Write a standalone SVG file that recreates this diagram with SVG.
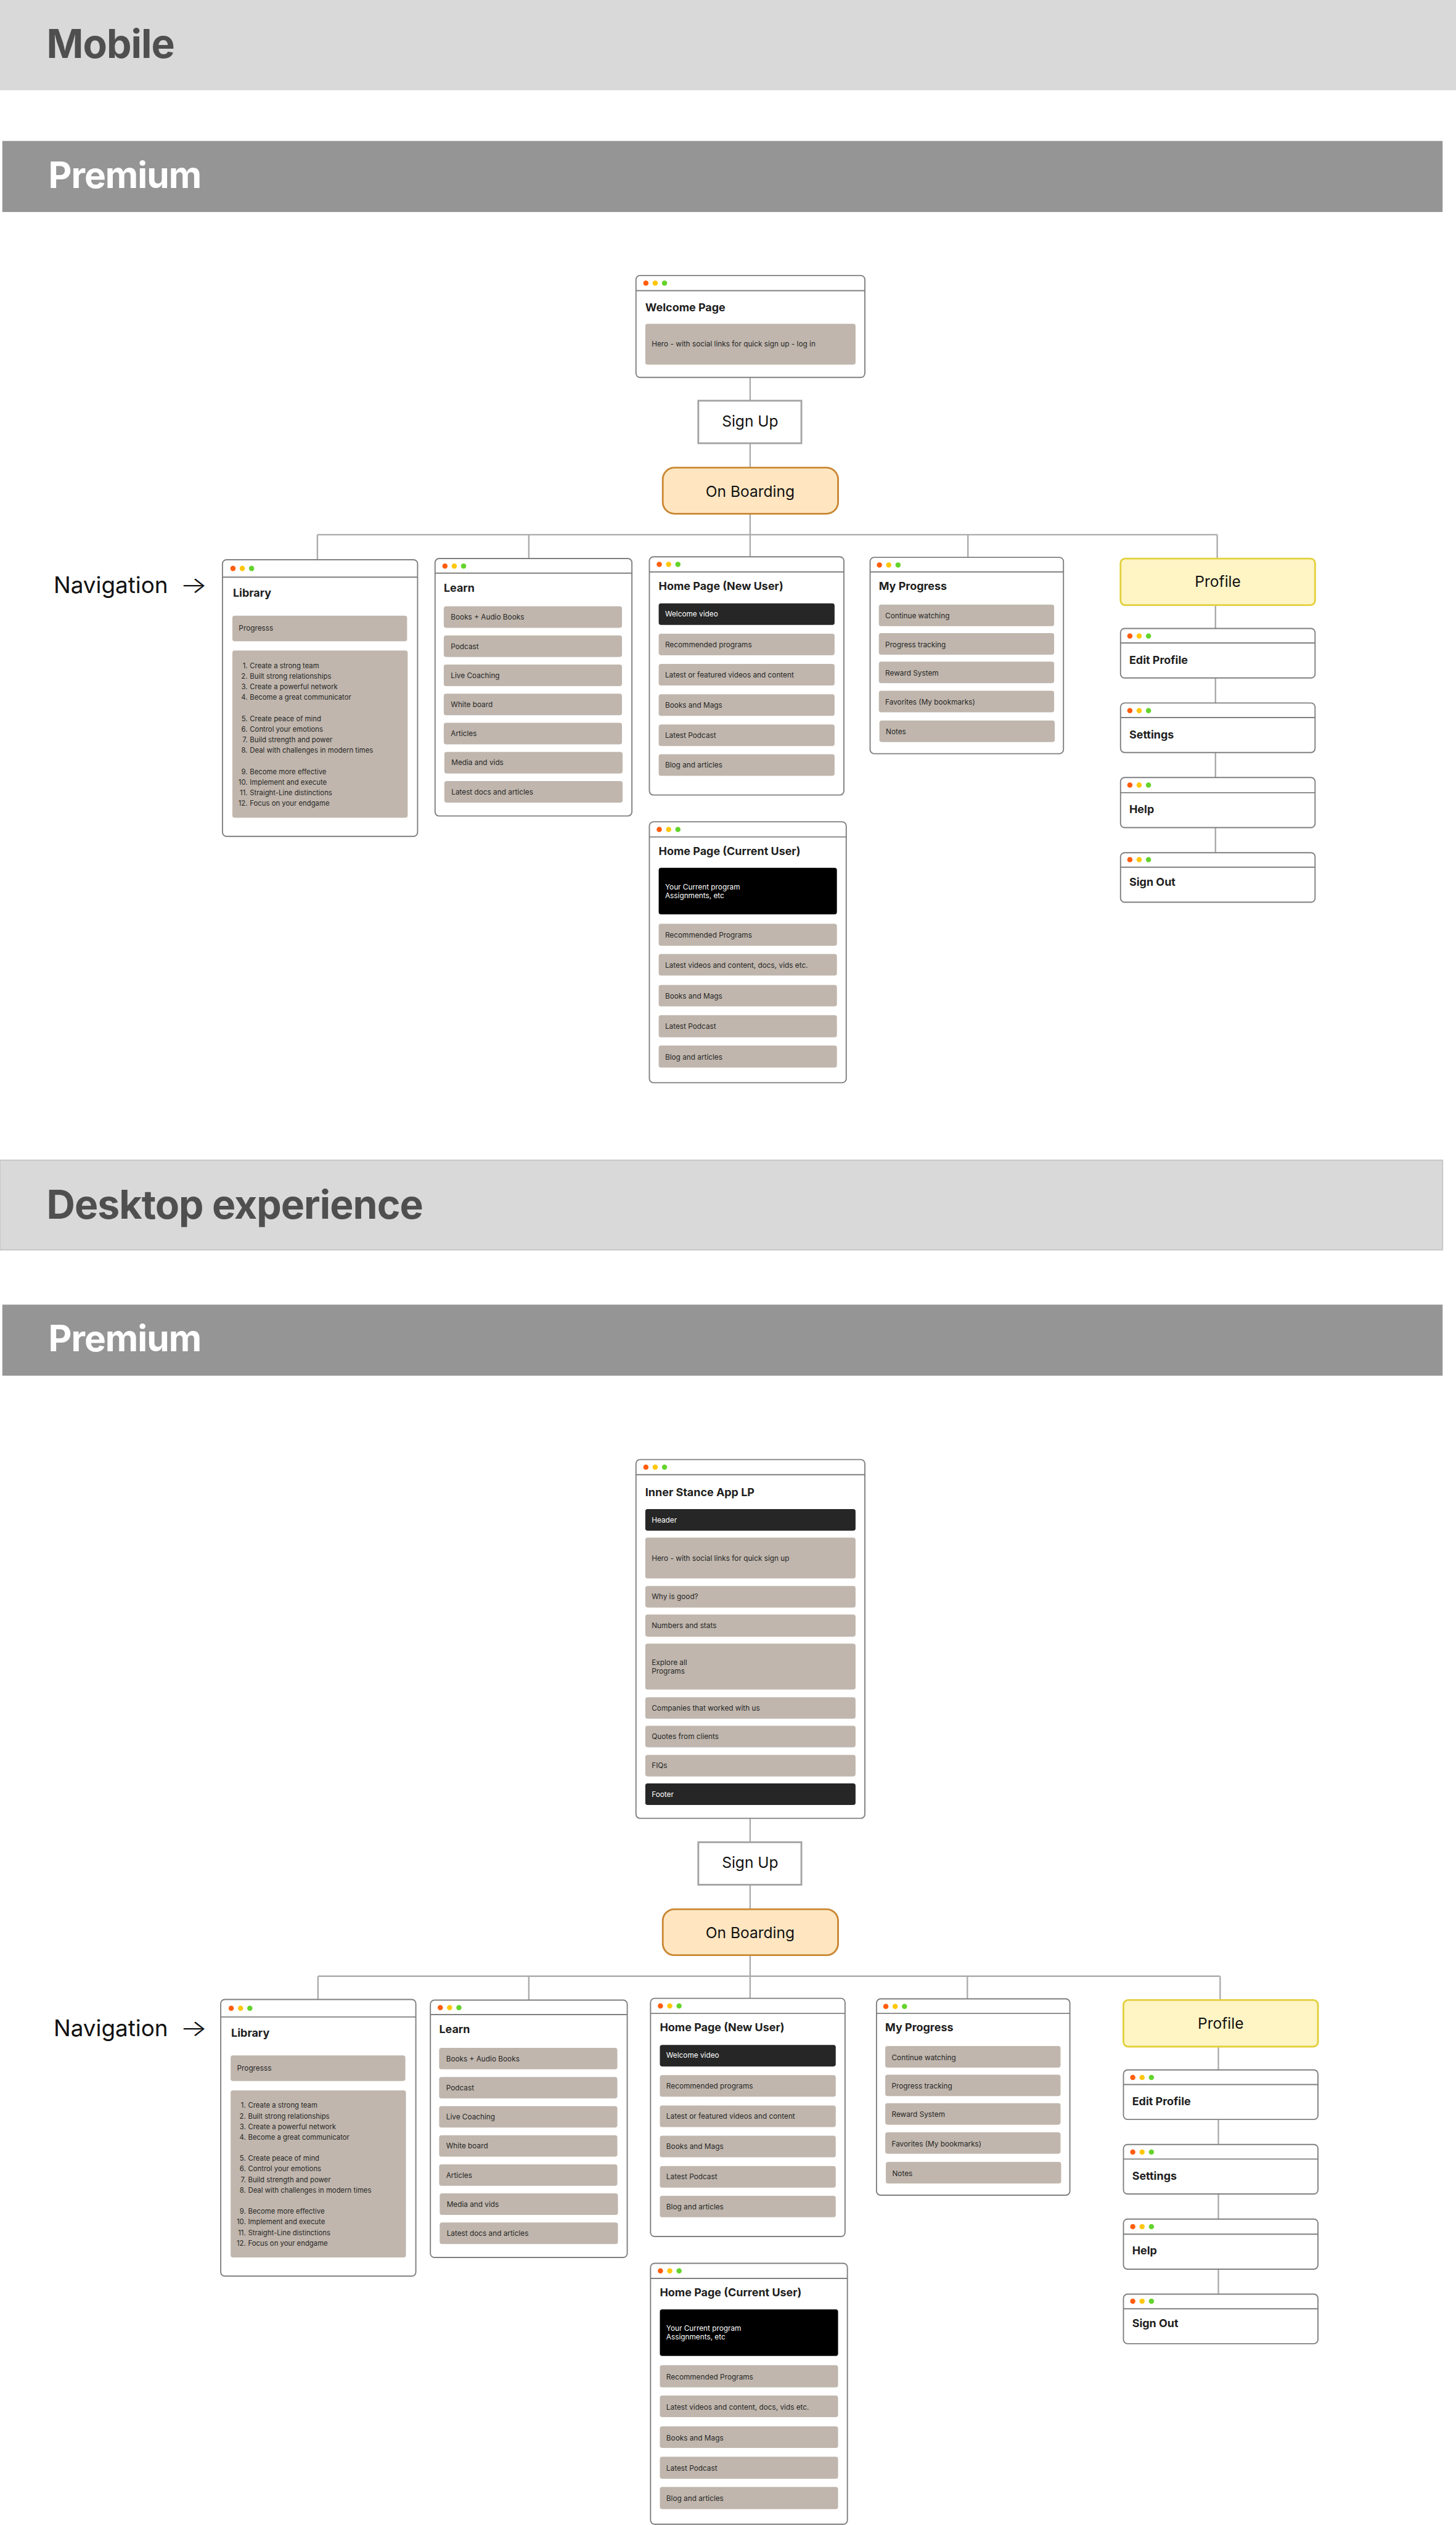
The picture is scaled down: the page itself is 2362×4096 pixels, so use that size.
<svg xmlns="http://www.w3.org/2000/svg" xmlns:xlink="http://www.w3.org/1999/xlink" width="2362" height="4096" viewBox="0 0 2362 4096">
<style>
.win{fill:#fff;stroke:#7f7f7f;stroke-width:2}
.sep{stroke:#7f7f7f;stroke-width:2}
.item{fill:#c0b6ad}
.dark{fill:#262626}
.blk{fill:#000}
.t{font-family:Inter,'Liberation Sans',sans-serif;font-size:12.5px;fill:#262626}
.tw{font-family:Inter,'Liberation Sans',sans-serif;font-size:12.5px;fill:#fff}
.lst{font-family:Inter,'Liberation Sans',sans-serif;font-size:12px;fill:#262626}
.ttl{font-family:Inter,'Liberation Sans',sans-serif;font-size:19px;font-weight:700;fill:#1e1e1e}
.big{font-family:Inter,'Liberation Sans',sans-serif;font-size:26px;fill:#111;text-anchor:middle}
.nav{font-family:Inter,'Liberation Sans',sans-serif;font-size:39px;fill:#111}
.arr{font-family:Inter,'Liberation Sans',sans-serif;font-size:39px;font-weight:300;fill:#111}
.h1{font-family:Inter,'Liberation Sans',sans-serif;font-size:68px;font-weight:700;fill:#4f4f4f;letter-spacing:-1px}
.h2{font-family:Inter,'Liberation Sans',sans-serif;font-size:62px;font-weight:700;fill:#fff;letter-spacing:-1px}
.conn{stroke:#ababab;stroke-width:2.5;fill:none}
.signup{fill:#fff;stroke:#a3a3a3;stroke-width:3}
.onb{fill:#ffe6c1;stroke:#c98733;stroke-width:3}
.prof{fill:#fff4c4;stroke:#e2d03c;stroke-width:3}
</style>
<defs>
<g id="dots"><circle cx="0" cy="0" r="4.5" fill="#ff5d0d"/><circle cx="16" cy="0" r="4.5" fill="#ffc70d"/><circle cx="32" cy="0" r="4.5" fill="#64d42c"/></g>
</defs>
<rect x="0" y="0" width="2362" height="4096" fill="#fff"/>
<g transform="scale(0.9448)">

<g id="headers">
<rect x="0" y="0" width="2500" height="155" fill="#d9d9d9"/>
<text class="h1" x="80" y="100">Mobile</text>
<rect x="4" y="242" width="2473" height="122" fill="#959595"/>
<text class="h2" x="83" y="323">Premium</text>
<rect x="0" y="1992" width="2477" height="154" fill="#d9d9d9" stroke="#c6c6c6" stroke-width="2"/>
<text class="h1" x="80" y="2092">Desktop experience</text>
<rect x="4" y="2240" width="2473" height="122" fill="#959595"/>
<text class="h2" x="83" y="2320">Premium</text>
</g>

<g id="connectors">
<line class="conn" x1="1288" y1="648" x2="1288" y2="688"/>
<line class="conn" x1="1288" y1="761" x2="1288" y2="803"/>
<line class="conn" x1="1288" y1="882" x2="1288" y2="956"/>
<line class="conn" x1="545" y1="918" x2="2090" y2="918"/>
<line class="conn" x1="545" y1="918" x2="545" y2="961"/>
<line class="conn" x1="908" y1="918" x2="908" y2="959"/>
<line class="conn" x1="1662" y1="918" x2="1662" y2="957"/>
<line class="conn" x1="2090" y1="918" x2="2090" y2="959"/>
<line class="conn" x1="2087" y1="1039" x2="2087" y2="1079"/>
<line class="conn" x1="2087" y1="1164" x2="2087" y2="1207"/>
<line class="conn" x1="2087" y1="1292" x2="2087" y2="1335"/>
<line class="conn" x1="2087" y1="1421" x2="2087" y2="1464"/>

<line class="conn" x1="1288" y1="3122" x2="1288" y2="3163"/>
<line class="conn" x1="1288" y1="3236" x2="1288" y2="3278"/>
<line class="conn" x1="1288" y1="3357" x2="1288" y2="3431"/>
<line class="conn" x1="546" y1="3393" x2="2095" y2="3393"/>
<line class="conn" x1="546" y1="3393" x2="546" y2="3433"/>
<line class="conn" x1="908" y1="3393" x2="908" y2="3434"/>
<line class="conn" x1="1661" y1="3393" x2="1661" y2="3432"/>
<line class="conn" x1="2095" y1="3393" x2="2095" y2="3434"/>
<line class="conn" x1="2092" y1="3514" x2="2092" y2="3554"/>
<line class="conn" x1="2092" y1="3639" x2="2092" y2="3682"/>
<line class="conn" x1="2092" y1="3767" x2="2092" y2="3810"/>
<line class="conn" x1="2092" y1="3896" x2="2092" y2="3939"/>
</g>

<!-- MOBILE -->
<g id="m-welcome">
<rect class="win" x="1092" y="473" width="393" height="175" rx="7"/>
<line class="sep" x1="1092" y1="499" x2="1485" y2="499"/>
<use href="#dots" x="1109" y="486"/>
<text class="ttl" x="1108" y="535">Welcome Page</text>
<rect class="item" x="1108" y="556" width="361" height="70" rx="4"/>
<text class="t" x="1119" y="595">Hero - with social links for quick sign up - log in</text>
</g>

<g id="m-signup">
<rect class="signup" x="1199" y="688" width="177" height="73"/>
<text class="big" x="1288" y="732">Sign Up</text>
</g>

<g id="m-onboarding">
<rect class="onb" x="1138" y="803" width="301" height="79" rx="20"/>
<text class="big" x="1288" y="853">On Boarding</text>
</g>

<g id="m-navigation">
<text class="nav" x="92" y="1018">Navigation</text>
<text class="arr" x="309" y="1018" textLength="47" lengthAdjust="spacingAndGlyphs">→</text>
</g>

<g id="m-library">
<rect class="win" x="382" y="961" width="335" height="475" rx="7"/>
<line class="sep" x1="382" y1="991" x2="717" y2="991"/>
<use href="#dots" x="400" y="976"/>
<text class="ttl" x="400" y="1025">Library</text>
<rect class="item" x="399" y="1057" width="300" height="44" rx="4"/>
<text class="t" x="410" y="1083">Progresss</text>
<rect class="item" x="399" y="1117" width="301" height="287" rx="4"/>
<text class="lst" text-anchor="end"><tspan x="425" y="1147">1.</tspan><tspan x="425" y="1165.3">2.</tspan><tspan x="425" y="1183.5">3.</tspan><tspan x="425" y="1201.8">4.</tspan><tspan x="425" y="1238">5.</tspan><tspan x="425" y="1256.3">6.</tspan><tspan x="425" y="1274.5">7.</tspan><tspan x="425" y="1292.8">8.</tspan><tspan x="425" y="1329">9.</tspan><tspan x="425" y="1347.3">10.</tspan><tspan x="425" y="1365.5">11.</tspan><tspan x="425" y="1383.8">12.</tspan></text>
<text class="lst"><tspan x="429" y="1147">Create a strong team</tspan><tspan x="429" y="1165.3">Built strong relationships</tspan><tspan x="429" y="1183.5">Create a powerful network</tspan><tspan x="429" y="1201.8">Become a great communicator</tspan><tspan x="429" y="1238">Create peace of mind</tspan><tspan x="429" y="1256.3">Control your emotions</tspan><tspan x="429" y="1274.5">Build strength and power</tspan><tspan x="429" y="1292.8">Deal with challenges in modern times</tspan><tspan x="429" y="1329">Become more effective</tspan><tspan x="429" y="1347.3">Implement and execute</tspan><tspan x="429" y="1365.5">Straight-Line distinctions</tspan><tspan x="429" y="1383.8">Focus on your endgame</tspan></text>
</g>

<g id="m-learn">
<rect class="win" x="747" y="959" width="338" height="442" rx="7"/>
<line class="sep" x1="747" y1="984" x2="1085" y2="984"/>
<use href="#dots" x="764" y="972"/>
<text class="ttl" x="762" y="1016">Learn</text>
<rect class="item" x="762" y="1041" width="306" height="37" rx="4"/><text class="t" x="774" y="1064">Books + Audio Books</text>
<rect class="item" x="762" y="1091" width="306" height="37" rx="4"/><text class="t" x="774" y="1114">Podcast</text>
<rect class="item" x="762" y="1141" width="306" height="37" rx="4"/><text class="t" x="774" y="1164">Live Coaching</text>
<rect class="item" x="762" y="1191" width="306" height="37" rx="4"/><text class="t" x="774" y="1214">White board</text>
<rect class="item" x="762" y="1241" width="306" height="37" rx="4"/><text class="t" x="774" y="1264">Articles</text>
<rect class="item" x="763" y="1291" width="306" height="37" rx="4"/><text class="t" x="775" y="1314">Media and vids</text>
<rect class="item" x="763" y="1341" width="306" height="37" rx="4"/><text class="t" x="775" y="1364">Latest docs and articles</text>
</g>

<g id="m-home-new">
<rect class="win" x="1115" y="956" width="334" height="409" rx="7"/>
<line class="sep" x1="1115" y1="982" x2="1449" y2="982"/>
<use href="#dots" x="1132" y="969"/>
<text class="ttl" x="1131" y="1013">Home Page (New User)</text>
<rect class="dark" x="1131" y="1036" width="302" height="37" rx="4"/><text class="tw" x="1142" y="1058">Welcome video</text>
<rect class="item" x="1131" y="1088" width="302" height="37" rx="4"/><text class="t" x="1142" y="1111">Recommended programs</text>
<rect class="item" x="1131" y="1140" width="302" height="37" rx="4"/><text class="t" x="1142" y="1163">Latest or featured videos and content</text>
<rect class="item" x="1131" y="1192" width="302" height="37" rx="4"/><text class="t" x="1142" y="1215">Books and Mags</text>
<rect class="item" x="1131" y="1244" width="302" height="37" rx="4"/><text class="t" x="1142" y="1267">Latest Podcast</text>
<rect class="item" x="1131" y="1295" width="302" height="37" rx="4"/><text class="t" x="1142" y="1318">Blog and articles</text>
</g>

<g id="m-progress">
<rect class="win" x="1494" y="957" width="332" height="337" rx="7"/>
<line class="sep" x1="1494" y1="982" x2="1826" y2="982"/>
<use href="#dots" x="1510" y="970"/>
<text class="ttl" x="1509" y="1013">My Progress</text>
<rect class="item" x="1509" y="1038" width="301" height="37" rx="4"/><text class="t" x="1520" y="1062">Continue watching</text>
<rect class="item" x="1509" y="1087" width="301" height="37" rx="4"/><text class="t" x="1520" y="1111">Progress tracking</text>
<rect class="item" x="1509" y="1136" width="301" height="37" rx="4"/><text class="t" x="1520" y="1160">Reward System</text>
<rect class="item" x="1509" y="1186" width="301" height="37" rx="4"/><text class="t" x="1520" y="1210">Favorites (My bookmarks)</text>
<rect class="item" x="1510" y="1237" width="301" height="37" rx="4"/><text class="t" x="1521" y="1261">Notes</text>
</g>

<g id="m-profile">
<rect class="prof" x="1924" y="959" width="334" height="80" rx="8"/>
<text class="big" x="2091" y="1008">Profile</text>
</g>
<g id="m-edit-profile">
<rect class="win" x="1924" y="1079" width="334" height="85" rx="7"/>
<line class="sep" x1="1924" y1="1104" x2="2258" y2="1104"/>
<use href="#dots" x="1940" y="1092"/>
<text class="ttl" x="1939" y="1140">Edit Profile</text>
</g>
<g id="m-settings">
<rect class="win" x="1924" y="1207" width="334" height="85" rx="7"/>
<line class="sep" x1="1924" y1="1232" x2="2258" y2="1232"/>
<use href="#dots" x="1940" y="1220"/>
<text class="ttl" x="1939" y="1268">Settings</text>
</g>
<g id="m-help">
<rect class="win" x="1924" y="1335" width="334" height="86" rx="7"/>
<line class="sep" x1="1924" y1="1361" x2="2258" y2="1361"/>
<use href="#dots" x="1940" y="1348"/>
<text class="ttl" x="1939" y="1396">Help</text>
</g>
<g id="m-signout">
<rect class="win" x="1924" y="1464" width="334" height="85" rx="7"/>
<line class="sep" x1="1924" y1="1489" x2="2258" y2="1489"/>
<use href="#dots" x="1940" y="1476"/>
<text class="ttl" x="1939" y="1521">Sign Out</text>
</g>

<g id="m-home-current">
<rect class="win" x="1115" y="1411" width="338" height="448" rx="7"/>
<line class="sep" x1="1115" y1="1437" x2="1453" y2="1437"/>
<use href="#dots" x="1132" y="1424"/>
<text class="ttl" x="1131" y="1468">Home Page (Current User)</text>
<rect class="blk" x="1131" y="1490" width="306" height="80" rx="4"/>
<text class="tw"><tspan x="1142" y="1527">Your Current program</tspan><tspan x="1142" y="1542">Assignments, etc</tspan></text>
<rect class="item" x="1131" y="1586" width="306" height="38" rx="4"/><text class="t" x="1142" y="1610">Recommended Programs</text>
<rect class="item" x="1131" y="1638" width="306" height="37" rx="4"/><text class="t" x="1142" y="1662">Latest videos and content, docs, vids etc.</text>
<rect class="item" x="1131" y="1691" width="306" height="37" rx="4"/><text class="t" x="1142" y="1715">Books and Mags</text>
<rect class="item" x="1131" y="1743" width="306" height="38" rx="4"/><text class="t" x="1142" y="1767">Latest Podcast</text>
<rect class="item" x="1131" y="1795" width="306" height="38" rx="4"/><text class="t" x="1142" y="1819">Blog and articles</text>
</g>

<!-- DESKTOP -->
<g id="d-landing">
<rect class="win" x="1092" y="2506" width="393" height="616" rx="7"/>
<line class="sep" x1="1092" y1="2532" x2="1485" y2="2532"/>
<use href="#dots" x="1109" y="2519"/>
<text class="ttl" x="1108" y="2569">Inner Stance App LP</text>
<rect class="dark" x="1108" y="2591" width="361" height="37" rx="4"/><text class="tw" x="1119" y="2614">Header</text>
<rect class="item" x="1108" y="2640" width="361" height="70" rx="4"/><text class="t" x="1119" y="2680">Hero - with social links for quick sign up</text>
<rect class="item" x="1108" y="2723" width="361" height="37" rx="4"/><text class="t" x="1119" y="2746">Why is good?</text>
<rect class="item" x="1108" y="2772" width="361" height="38" rx="4"/><text class="t" x="1119" y="2795">Numbers and stats</text>
<rect class="item" x="1108" y="2822" width="361" height="79" rx="4"/><text class="t"><tspan x="1119" y="2859">Explore all</tspan><tspan x="1119" y="2874">Programs</tspan></text>
<rect class="item" x="1108" y="2914" width="361" height="37" rx="4"/><text class="t" x="1119" y="2937">Companies that worked with us</text>
<rect class="item" x="1108" y="2963" width="361" height="37" rx="4"/><text class="t" x="1119" y="2986">Quotes from clients</text>
<rect class="item" x="1108" y="3013" width="361" height="37" rx="4"/><text class="t" x="1119" y="3036">FIQs</text>
<rect class="dark" x="1108" y="3062" width="361" height="37" rx="4"/><text class="tw" x="1119" y="3085">Footer</text>
</g>

<g id="d-signup" transform="translate(0,2475)">
<rect class="signup" x="1199" y="688" width="177" height="73"/>
<text class="big" x="1288" y="732">Sign Up</text>
</g>

<g id="d-onboarding" transform="translate(0,2475)">
<rect class="onb" x="1138" y="803" width="301" height="79" rx="20"/>
<text class="big" x="1288" y="853">On Boarding</text>
</g>

<g id="d-navigation" transform="translate(0,2478)">
<text class="nav" x="92" y="1018">Navigation</text>
<text class="arr" x="309" y="1018" textLength="47" lengthAdjust="spacingAndGlyphs">→</text>
</g>

<g id="d-library" transform="translate(-3,2472)">
<rect class="win" x="382" y="961" width="335" height="475" rx="7"/>
<line class="sep" x1="382" y1="991" x2="717" y2="991"/>
<use href="#dots" x="400" y="976"/>
<text class="ttl" x="400" y="1025">Library</text>
<rect class="item" x="399" y="1057" width="300" height="44" rx="4"/>
<text class="t" x="410" y="1083">Progresss</text>
<rect class="item" x="399" y="1117" width="301" height="287" rx="4"/>
<text class="lst" text-anchor="end"><tspan x="425" y="1147">1.</tspan><tspan x="425" y="1165.3">2.</tspan><tspan x="425" y="1183.5">3.</tspan><tspan x="425" y="1201.8">4.</tspan><tspan x="425" y="1238">5.</tspan><tspan x="425" y="1256.3">6.</tspan><tspan x="425" y="1274.5">7.</tspan><tspan x="425" y="1292.8">8.</tspan><tspan x="425" y="1329">9.</tspan><tspan x="425" y="1347.3">10.</tspan><tspan x="425" y="1365.5">11.</tspan><tspan x="425" y="1383.8">12.</tspan></text>
<text class="lst"><tspan x="429" y="1147">Create a strong team</tspan><tspan x="429" y="1165.3">Built strong relationships</tspan><tspan x="429" y="1183.5">Create a powerful network</tspan><tspan x="429" y="1201.8">Become a great communicator</tspan><tspan x="429" y="1238">Create peace of mind</tspan><tspan x="429" y="1256.3">Control your emotions</tspan><tspan x="429" y="1274.5">Build strength and power</tspan><tspan x="429" y="1292.8">Deal with challenges in modern times</tspan><tspan x="429" y="1329">Become more effective</tspan><tspan x="429" y="1347.3">Implement and execute</tspan><tspan x="429" y="1365.5">Straight-Line distinctions</tspan><tspan x="429" y="1383.8">Focus on your endgame</tspan></text>
</g>

<g id="d-learn" transform="translate(-8,2475)">
<rect class="win" x="747" y="959" width="338" height="442" rx="7"/>
<line class="sep" x1="747" y1="984" x2="1085" y2="984"/>
<use href="#dots" x="764" y="972"/>
<text class="ttl" x="762" y="1016">Learn</text>
<rect class="item" x="762" y="1041" width="306" height="37" rx="4"/><text class="t" x="774" y="1064">Books + Audio Books</text>
<rect class="item" x="762" y="1091" width="306" height="37" rx="4"/><text class="t" x="774" y="1114">Podcast</text>
<rect class="item" x="762" y="1141" width="306" height="37" rx="4"/><text class="t" x="774" y="1164">Live Coaching</text>
<rect class="item" x="762" y="1191" width="306" height="37" rx="4"/><text class="t" x="774" y="1214">White board</text>
<rect class="item" x="762" y="1241" width="306" height="37" rx="4"/><text class="t" x="774" y="1264">Articles</text>
<rect class="item" x="763" y="1291" width="306" height="37" rx="4"/><text class="t" x="775" y="1314">Media and vids</text>
<rect class="item" x="763" y="1341" width="306" height="37" rx="4"/><text class="t" x="775" y="1364">Latest docs and articles</text>
</g>

<g id="d-home-new" transform="translate(2,2475)">
<rect class="win" x="1115" y="956" width="334" height="409" rx="7"/>
<line class="sep" x1="1115" y1="982" x2="1449" y2="982"/>
<use href="#dots" x="1132" y="969"/>
<text class="ttl" x="1131" y="1013">Home Page (New User)</text>
<rect class="dark" x="1131" y="1036" width="302" height="37" rx="4"/><text class="tw" x="1142" y="1058">Welcome video</text>
<rect class="item" x="1131" y="1088" width="302" height="37" rx="4"/><text class="t" x="1142" y="1111">Recommended programs</text>
<rect class="item" x="1131" y="1140" width="302" height="37" rx="4"/><text class="t" x="1142" y="1163">Latest or featured videos and content</text>
<rect class="item" x="1131" y="1192" width="302" height="37" rx="4"/><text class="t" x="1142" y="1215">Books and Mags</text>
<rect class="item" x="1131" y="1244" width="302" height="37" rx="4"/><text class="t" x="1142" y="1267">Latest Podcast</text>
<rect class="item" x="1131" y="1295" width="302" height="37" rx="4"/><text class="t" x="1142" y="1318">Blog and articles</text>
</g>

<g id="d-progress" transform="translate(11,2475)">
<rect class="win" x="1494" y="957" width="332" height="337" rx="7"/>
<line class="sep" x1="1494" y1="982" x2="1826" y2="982"/>
<use href="#dots" x="1510" y="970"/>
<text class="ttl" x="1509" y="1013">My Progress</text>
<rect class="item" x="1509" y="1038" width="301" height="37" rx="4"/><text class="t" x="1520" y="1062">Continue watching</text>
<rect class="item" x="1509" y="1087" width="301" height="37" rx="4"/><text class="t" x="1520" y="1111">Progress tracking</text>
<rect class="item" x="1509" y="1136" width="301" height="37" rx="4"/><text class="t" x="1520" y="1160">Reward System</text>
<rect class="item" x="1509" y="1186" width="301" height="37" rx="4"/><text class="t" x="1520" y="1210">Favorites (My bookmarks)</text>
<rect class="item" x="1510" y="1237" width="301" height="37" rx="4"/><text class="t" x="1521" y="1261">Notes</text>
</g>

<g id="d-profile" transform="translate(5,2475)">
<rect class="prof" x="1924" y="959" width="334" height="80" rx="8"/>
<text class="big" x="2091" y="1008">Profile</text>
</g>
<g id="d-edit-profile" transform="translate(5,2475)">
<rect class="win" x="1924" y="1079" width="334" height="85" rx="7"/>
<line class="sep" x1="1924" y1="1104" x2="2258" y2="1104"/>
<use href="#dots" x="1940" y="1092"/>
<text class="ttl" x="1939" y="1140">Edit Profile</text>
</g>
<g id="d-settings" transform="translate(5,2475)">
<rect class="win" x="1924" y="1207" width="334" height="85" rx="7"/>
<line class="sep" x1="1924" y1="1232" x2="2258" y2="1232"/>
<use href="#dots" x="1940" y="1220"/>
<text class="ttl" x="1939" y="1268">Settings</text>
</g>
<g id="d-help" transform="translate(5,2475)">
<rect class="win" x="1924" y="1335" width="334" height="86" rx="7"/>
<line class="sep" x1="1924" y1="1361" x2="2258" y2="1361"/>
<use href="#dots" x="1940" y="1348"/>
<text class="ttl" x="1939" y="1396">Help</text>
</g>
<g id="d-signout" transform="translate(5,2475)">
<rect class="win" x="1924" y="1464" width="334" height="85" rx="7"/>
<line class="sep" x1="1924" y1="1489" x2="2258" y2="1489"/>
<use href="#dots" x="1940" y="1476"/>
<text class="ttl" x="1939" y="1521">Sign Out</text>
</g>

<g id="d-home-current" transform="translate(2,2475)">
<rect class="win" x="1115" y="1411" width="338" height="448" rx="7"/>
<line class="sep" x1="1115" y1="1437" x2="1453" y2="1437"/>
<use href="#dots" x="1132" y="1424"/>
<text class="ttl" x="1131" y="1468">Home Page (Current User)</text>
<rect class="blk" x="1131" y="1490" width="306" height="80" rx="4"/>
<text class="tw"><tspan x="1142" y="1527">Your Current program</tspan><tspan x="1142" y="1542">Assignments, etc</tspan></text>
<rect class="item" x="1131" y="1586" width="306" height="38" rx="4"/><text class="t" x="1142" y="1610">Recommended Programs</text>
<rect class="item" x="1131" y="1638" width="306" height="37" rx="4"/><text class="t" x="1142" y="1662">Latest videos and content, docs, vids etc.</text>
<rect class="item" x="1131" y="1691" width="306" height="37" rx="4"/><text class="t" x="1142" y="1715">Books and Mags</text>
<rect class="item" x="1131" y="1743" width="306" height="38" rx="4"/><text class="t" x="1142" y="1767">Latest Podcast</text>
<rect class="item" x="1131" y="1795" width="306" height="38" rx="4"/><text class="t" x="1142" y="1819">Blog and articles</text>
</g>

</g>
</svg>
